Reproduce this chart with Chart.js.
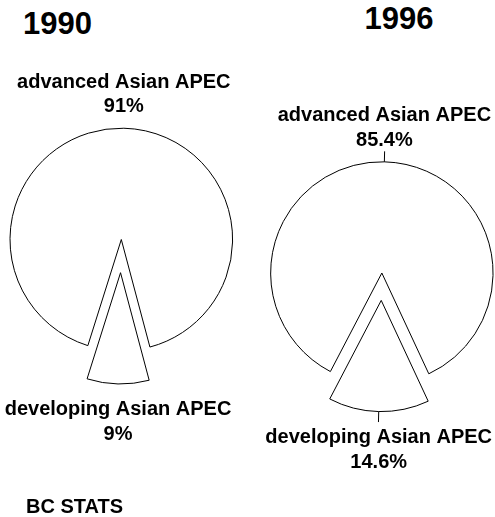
<!DOCTYPE html>
<html>
<head>
<meta charset="utf-8">
<script src="https://cdn.jsdelivr.net/npm/chart.js@4"></script>
<style>
  html, body { margin: 0; padding: 0; background: #fff; }
  body { width: 495px; height: 517px; position: relative; overflow: hidden;
         font-family: "Liberation Sans", Arial, sans-serif; font-weight: bold; color: #000; }
  canvas { position: absolute; top: 0; }
  #pie1990 { left: 0; }
  #pie1996 { left: 247px; }
  .year { position: absolute; width: 120px; text-align: center; font-size: 31px; line-height: 31px; }
  #year1990 { left: -2.5px; top: 8px; }
  #year1996 { left: 339px; top: 3px; }
  #source { position: absolute; left: 26px; top: 496px; font-size: 20px; line-height: 20px; }
</style>
</head>
<body>
<div class="year" id="year1990">1990</div>
<div class="year" id="year1996">1996</div>
<canvas id="pie1990" width="247" height="517"></canvas>
<canvas id="pie1996" width="248" height="517"></canvas>
<div id="source">BC STATS</div>
<script>
var categories = ['advanced Asian APEC', 'developing Asian APEC'];
var share1990 = [91, 9];
var share1996 = [85.4, 14.6];

// pulls exploded slices out along their middle angle and writes the labels
var sliceLabels = {
  id: 'sliceLabels',
  afterDatasetUpdate: function(chart, args, opts) {
    var explode = opts.explode || [];
    chart.getDatasetMeta(args.index).data.forEach(function(arc, i) {
      var d = explode[i] || 0;
      if (!d) return;
      var mid = (arc.startAngle + arc.endAngle) / 2;
      arc.x += Math.cos(mid) * d;
      arc.y += Math.sin(mid) * d;
    });
  },
  afterDatasetsDraw: function(chart, args, opts) {
    var ctx = chart.ctx;
    var ds = chart.data.datasets[0];
    ctx.save();
    ctx.font = 'bold 20px "Liberation Sans", Arial, sans-serif';
    ctx.fillStyle = '#000';
    ctx.strokeStyle = '#000';
    ctx.lineWidth = 1;
    ctx.textAlign = 'center';
    ctx.textBaseline = 'alphabetic';
    chart.getDatasetMeta(0).data.forEach(function(arc, i) {
      var mid = (arc.startAngle + arc.endAngle) / 2;
      var dx = Math.cos(mid), dy = Math.sin(mid);
      var px = arc.x + dx * arc.outerRadius;
      var py = arc.y + dy * arc.outerRadius;
      var lines = [chart.data.labels[i], ds.data[i] + '%'];
      if (opts.leader) {
        ctx.beginPath();
        ctx.moveTo(px, py);
        ctx.lineTo(px + dx * opts.leader, py + dy * opts.leader);
        ctx.stroke();
      }
      lines.forEach(function(t, k) {
        var y = dy < 0 ? py - 16 - (lines.length - 1 - k) * 24.5 : py + 31.5 + k * 24.5;
        ctx.fillText(t, px, y);
      });
    });
    ctx.restore();
  }
};

// start angle so the developing slice sits at the bottom, tilted a little
function rotationFor(values, tilt) {
  var total = values[0] + values[1];
  return 180 + tilt - 360 * (values[0] + values[1] / 2) / total;
}

function makePie(id, values, cfg) {
  return new Chart(document.getElementById(id), {
    type: 'pie',
    data: {
      labels: categories,
      datasets: [{
        data: values,
        backgroundColor: '#ffffff',
        borderColor: '#000000',
        borderWidth: 1,
        borderJoinStyle: 'miter'
      }]
    },
    options: {
      responsive: false,
      animation: false,
      radius: cfg.radius,
      rotation: rotationFor(values, 1.3),
      layout: { padding: cfg.padding },
      plugins: {
        legend: { display: false },
        tooltip: { enabled: false },
        sliceLabels: { explode: [0, cfg.explode], leader: cfg.leader }
      },
      events: []
    },
    plugins: [sliceLabels]
  });
}

makePie('pie1990', share1990, {
  radius: 111.3, explode: 33.2, leader: 0,
  padding: { left: 0, right: 4.4, top: 0, bottom: 38 }
});
makePie('pie1996', share1996, {
  radius: 111.2, explode: 27.4, leader: 10.5,
  padding: { left: 21.7, right: 0, top: 29, bottom: 0 }
});
</script>
</body>
</html>
